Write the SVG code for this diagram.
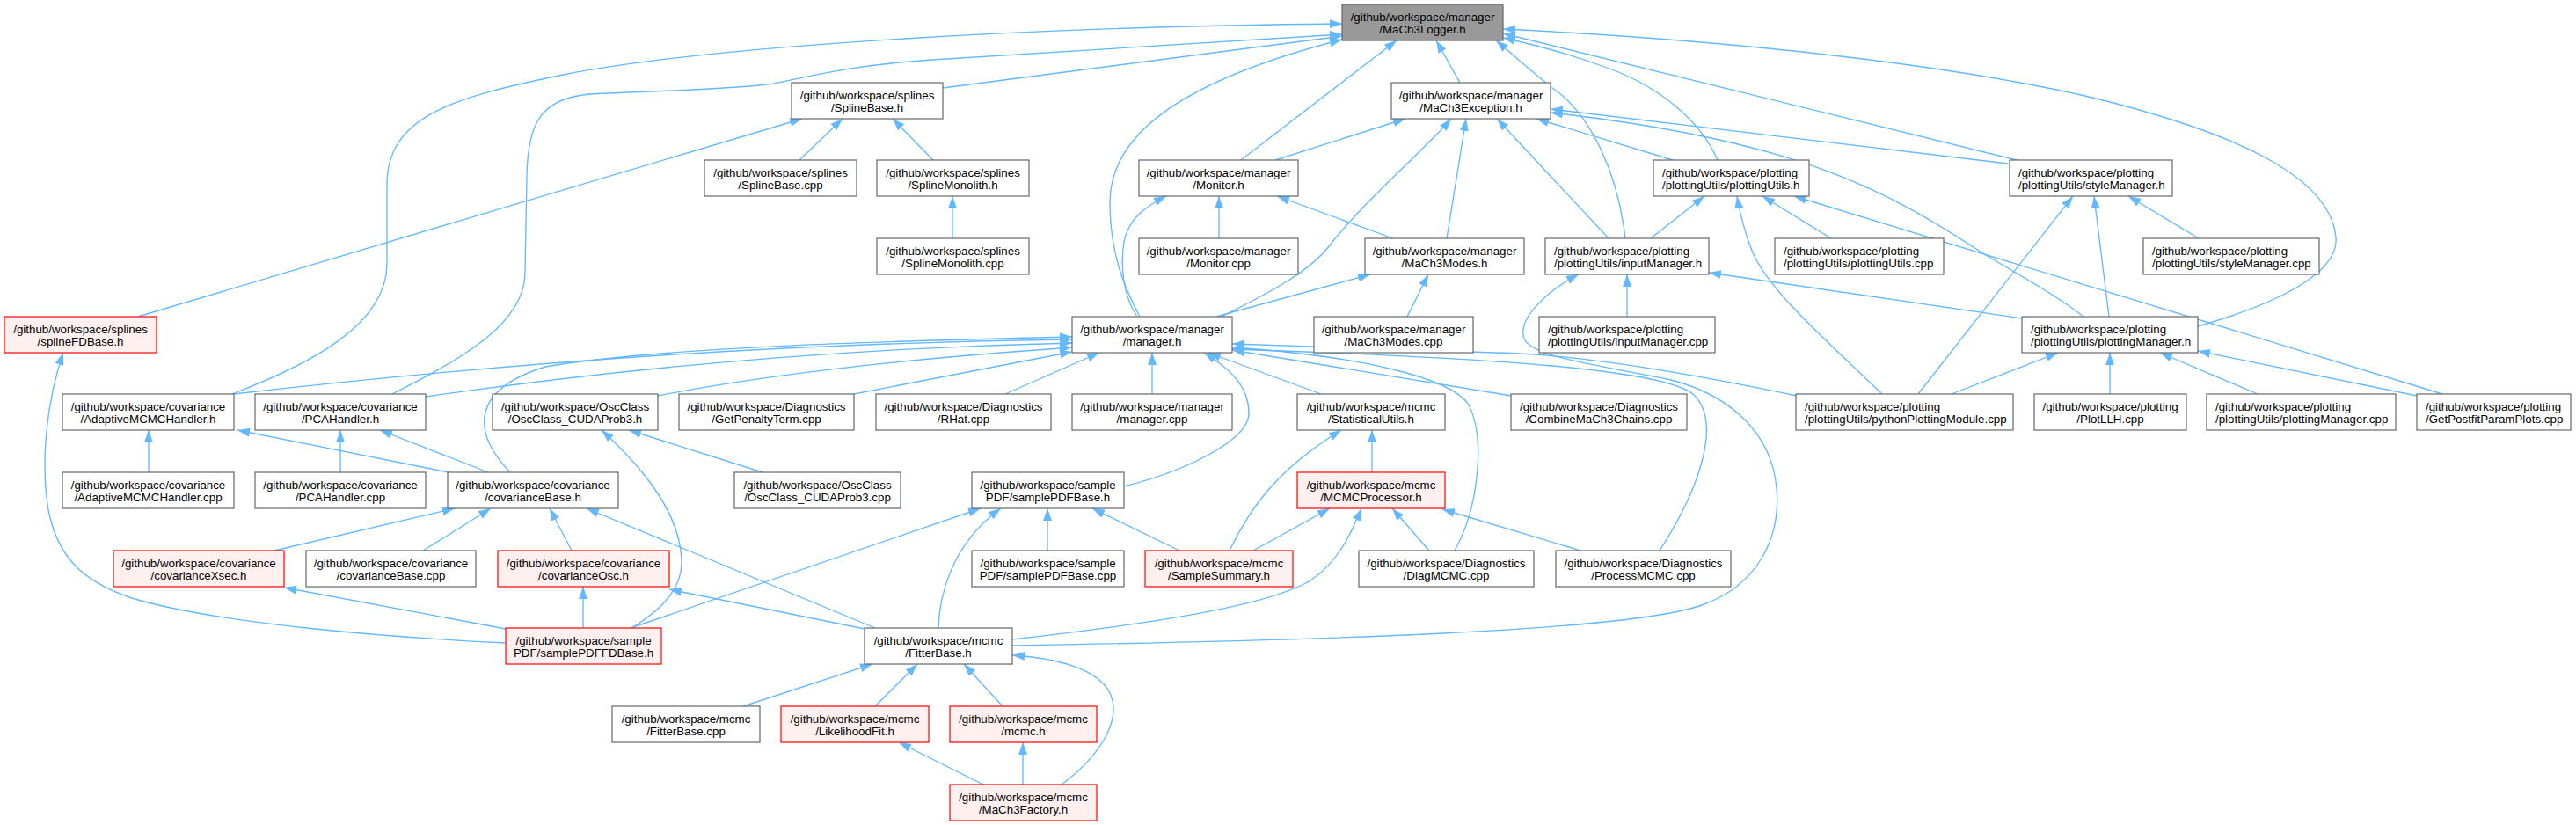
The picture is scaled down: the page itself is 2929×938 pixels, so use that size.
<svg xmlns="http://www.w3.org/2000/svg" width="2929" height="938" viewBox="0 0 2929 938">
<style>
.node rect{fill:#ffffff;stroke:#666666;stroke-width:1.2}
.root rect{fill:#999999;stroke:#666666}
.red rect{fill:#fff0f0;stroke:#ff0000}
.node text{font-family:"Liberation Sans",Arial,Helvetica,sans-serif;font-size:13.33px;fill:#000000}
.c text{text-anchor:middle}
.l text{text-anchor:start}
.edges path{fill:none;stroke:#63b8ff;stroke-width:1.33;marker-end:url(#ah)}
</style>
<defs>
<marker id="ah" viewBox="0 0 14 10" refX="14" refY="5" markerWidth="14" markerHeight="10" markerUnits="userSpaceOnUse" orient="auto"><path d="M0,0 L14,5 L0,10 z" fill="#63b8ff"/></marker>
</defs>
<rect x="0" y="0" width="2929" height="938" fill="#ffffff"/>
<g class="edges" id="connectors">
<path d="M1072,100 L1526,41"/>
<path d="M264,448 C350,415 440,370 440,300 L440,210 C440,130 520,110 640,85 C820,50 1200,30 1526,27"/>
<path d="M446,448 C520,410 597,370 597,310 L599,200 C600,140 615,112 670,107 C750,103 830,102 880,95 C930,85 970,74 1060,68 L1526,39"/>
<path d="M1296,360 C1280,330 1262,290 1262,230 C1262,150 1350,90 1526,45"/>
<path d="M1411,182 L1588,46"/>
<path d="M1660,94 L1633,46"/>
<path d="M1848,271 C1840,200 1810,130 1765,100 C1740,80 1720,62 1701,46"/>
<path d="M1953,182 C1935,140 1890,100 1830,78 C1790,63 1750,52 1709,43"/>
<path d="M2293,182 L1709,38"/>
<path d="M2499,371 C2590,345 2660,310 2656,270 C2650,200 2540,150 2375,110 C2200,70 1950,45 1709,33"/>
<path d="M1450,182 L1598,135"/>
<path d="M1389,360 C1440,334 1490,310 1515,275 C1560,220 1620,170 1650,135"/>
<path d="M1645,271 L1667,135"/>
<path d="M1829,271 L1702,135"/>
<path d="M1902,182 L1747,135"/>
<path d="M2283,186 L1763,124"/>
<path d="M2369,360 C2330,330 2290,310 2250,285 C2150,220 2050,160 1763,128"/>
<path d="M157,360 L912,135"/>
<path d="M909,182 L958,135"/>
<path d="M1061,182 L1015,135"/>
<path d="M1083,271 L1083,223"/>
<path d="M1386,271 L1386,223"/>
<path d="M1293,360 C1276,335 1274,300 1278,275 C1283,250 1300,236 1326,223"/>
<path d="M1584,271 L1452,223"/>
<path d="M1383,360 L1558,312"/>
<path d="M1600,360 L1624,312"/>
<path d="M1877,271 L1938,223"/>
<path d="M1850,360 L1850,312"/>
<path d="M2299,362 L1943,310"/>
<path d="M1151,734 C1500,728 1850,718 1935,688 C2000,665 2025,610 2020,555 C2015,495 1970,450 1900,432 C1800,412 1742,405 1733,385 C1725,362 1760,330 1795,312"/>
<path d="M1560,537 L1560,489"/>
<path d="M1398,626 C1420,580 1450,535 1525,489"/>
<path d="M1425,626 L1512,578"/>
<path d="M1625,626 L1583,578"/>
<path d="M1797,626 L1640,579"/>
<path d="M1151,727 C1300,710 1440,690 1490,660 C1520,640 1535,610 1548,578"/>
<path d="M1191,626 L1191,578"/>
<path d="M1341,626 L1242,578"/>
<path d="M1067,714 C1068,680 1080,620 1138,578"/>
<path d="M717,714 L1115,578"/>
<path d="M312,626 L517,578"/>
<path d="M481,626 L558,578"/>
<path d="M650,626 L625,578"/>
<path d="M995,714 L667,578"/>
<path d="M510,537 L270,489"/>
<path d="M555,537 L432,489"/>
<path d="M580,537 C540,495 530,445 620,417 C750,395 1000,388 1219,383"/>
<path d="M169,537 L169,489"/>
<path d="M387,537 L387,489"/>
<path d="M867,537 L715,489"/>
<path d="M718,714 C750,695 775,670 775,640 C775,590 740,540 684,489"/>
<path d="M663,714 L663,667"/>
<path d="M983,715 L761,670"/>
<path d="M575,715 L323,668"/>
<path d="M575,731 C450,725 250,710 150,680 C90,660 65,630 55,580 C45,520 55,450 72,401"/>
<path d="M845,803 L992,755"/>
<path d="M995,803 L1043,755"/>
<path d="M1140,803 L1096,755"/>
<path d="M1207,892 C1250,860 1275,820 1263,790 C1250,760 1200,748 1151,745"/>
<path d="M1118,892 L1022,844"/>
<path d="M1163,892 L1163,844"/>
<path d="M2140,448 C2080,390 2010,330 1992,285 C1982,260 1978,240 1975,223"/>
<path d="M2082,271 L2004,223"/>
<path d="M2777,448 L2040,223"/>
<path d="M2181,448 L2357,223"/>
<path d="M2398,360 L2381,223"/>
<path d="M2500,271 L2420,223"/>
<path d="M2219,448 L2340,401"/>
<path d="M2399,448 L2399,401"/>
<path d="M2567,448 L2456,401"/>
<path d="M2748,450 L2499,399"/>
<path d="M266,448 C600,410 900,390 1219,386"/>
<path d="M484,451 C700,420 950,396 1219,390"/>
<path d="M748,450 C850,430 1000,410 1219,395"/>
<path d="M971,448 L1219,400"/>
<path d="M1143,448 L1250,401"/>
<path d="M1310,448 L1310,401"/>
<path d="M1278,553 C1350,535 1420,500 1420,470 C1420,440 1400,420 1369,401"/>
<path d="M1502,448 L1374,401"/>
<path d="M1654,626 C1680,580 1690,500 1670,460 C1650,430 1550,405 1401,395"/>
<path d="M1718,450 L1401,398"/>
<path d="M1887,626 C1930,560 1960,480 1925,448 C1890,420 1700,407 1401,397"/>
<path d="M2043,450 C1900,420 1780,402 1700,401 L1401,391"/>
</g>
<g id="logger" class="node root c"><rect x="1526" y="5" width="183" height="41"/><text x="1617.5" y="24">/github/workspace/manager</text><text x="1617.5" y="38">/MaCh3Logger.h</text></g>
<g id="splinebase_h" class="node c"><rect x="900" y="94" width="172" height="41"/><text x="986" y="113">/github/workspace/splines</text><text x="986" y="127">/SplineBase.h</text></g>
<g id="exception" class="node c"><rect x="1582" y="94" width="181" height="41"/><text x="1672.5" y="113">/github/workspace/manager</text><text x="1672.5" y="127">/MaCh3Exception.h</text></g>
<g id="splinebase_cpp" class="node c"><rect x="801" y="182" width="173" height="41"/><text x="887.5" y="201">/github/workspace/splines</text><text x="887.5" y="215">/SplineBase.cpp</text></g>
<g id="splinemono_h" class="node c"><rect x="997" y="182" width="173" height="41"/><text x="1083.5" y="201">/github/workspace/splines</text><text x="1083.5" y="215">/SplineMonolith.h</text></g>
<g id="monitor_h" class="node c"><rect x="1295" y="182" width="181" height="41"/><text x="1385.5" y="201">/github/workspace/manager</text><text x="1385.5" y="215">/Monitor.h</text></g>
<g id="plotutils_h" class="node l"><rect x="1880" y="182" width="177" height="41"/><text x="1890" y="201">/github/workspace/plotting</text><text x="1890" y="215">/plottingUtils/plottingUtils.h</text></g>
<g id="style_h" class="node l"><rect x="2285" y="182" width="185" height="41"/><text x="2295" y="201">/github/workspace/plotting</text><text x="2295" y="215">/plottingUtils/styleManager.h</text></g>
<g id="splinemono_cpp" class="node c"><rect x="997" y="271" width="173" height="41"/><text x="1083.5" y="290">/github/workspace/splines</text><text x="1083.5" y="304">/SplineMonolith.cpp</text></g>
<g id="monitor_cpp" class="node c"><rect x="1295" y="271" width="181" height="41"/><text x="1385.5" y="290">/github/workspace/manager</text><text x="1385.5" y="304">/Monitor.cpp</text></g>
<g id="modes_h" class="node c"><rect x="1552" y="271" width="181" height="41"/><text x="1642.5" y="290">/github/workspace/manager</text><text x="1642.5" y="304">/MaCh3Modes.h</text></g>
<g id="input_h" class="node l"><rect x="1757" y="271" width="186" height="41"/><text x="1767" y="290">/github/workspace/plotting</text><text x="1767" y="304">/plottingUtils/inputManager.h</text></g>
<g id="plotutils_cpp" class="node l"><rect x="2018" y="271" width="192" height="41"/><text x="2028" y="290">/github/workspace/plotting</text><text x="2028" y="304">/plottingUtils/plottingUtils.cpp</text></g>
<g id="style_cpp" class="node l"><rect x="2437" y="271" width="200" height="41"/><text x="2447" y="290">/github/workspace/plotting</text><text x="2447" y="304">/plottingUtils/styleManager.cpp</text></g>
<g id="splinefd" class="node red c"><rect x="5" y="360" width="173" height="41"/><text x="91.5" y="379">/github/workspace/splines</text><text x="91.5" y="393">/splineFDBase.h</text></g>
<g id="manager_h" class="node c"><rect x="1219" y="360" width="182" height="41"/><text x="1310" y="379">/github/workspace/manager</text><text x="1310" y="393">/manager.h</text></g>
<g id="modes_cpp" class="node c"><rect x="1494" y="360" width="181" height="41"/><text x="1584.5" y="379">/github/workspace/manager</text><text x="1584.5" y="393">/MaCh3Modes.cpp</text></g>
<g id="input_cpp" class="node l"><rect x="1750" y="360" width="200" height="41"/><text x="1760" y="379">/github/workspace/plotting</text><text x="1760" y="393">/plottingUtils/inputManager.cpp</text></g>
<g id="plotmgr_h" class="node l"><rect x="2299" y="360" width="200" height="41"/><text x="2309" y="379">/github/workspace/plotting</text><text x="2309" y="393">/plottingUtils/plottingManager.h</text></g>
<g id="adaptive_h" class="node c"><rect x="71" y="448" width="195" height="41"/><text x="168.5" y="467">/github/workspace/covariance</text><text x="168.5" y="481">/AdaptiveMCMCHandler.h</text></g>
<g id="pca_h" class="node c"><rect x="290" y="448" width="194" height="41"/><text x="387" y="467">/github/workspace/covariance</text><text x="387" y="481">/PCAHandler.h</text></g>
<g id="osc_h" class="node c"><rect x="560" y="448" width="188" height="41"/><text x="654" y="467">/github/workspace/OscClass</text><text x="654" y="481">/OscClass_CUDAProb3.h</text></g>
<g id="penalty" class="node c"><rect x="772" y="448" width="199" height="41"/><text x="871.5" y="467">/github/workspace/Diagnostics</text><text x="871.5" y="481">/GetPenaltyTerm.cpp</text></g>
<g id="rhat" class="node c"><rect x="996" y="448" width="199" height="41"/><text x="1095.5" y="467">/github/workspace/Diagnostics</text><text x="1095.5" y="481">/RHat.cpp</text></g>
<g id="manager_cpp" class="node c"><rect x="1219" y="448" width="182" height="41"/><text x="1310" y="467">/github/workspace/manager</text><text x="1310" y="481">/manager.cpp</text></g>
<g id="statutils" class="node c"><rect x="1475" y="448" width="168" height="41"/><text x="1559" y="467">/github/workspace/mcmc</text><text x="1559" y="481">/StatisticalUtils.h</text></g>
<g id="combine" class="node c"><rect x="1718" y="448" width="200" height="41"/><text x="1818" y="467">/github/workspace/Diagnostics</text><text x="1818" y="481">/CombineMaCh3Chains.cpp</text></g>
<g id="python" class="node l"><rect x="2042" y="448" width="247" height="41"/><text x="2052" y="467">/github/workspace/plotting</text><text x="2052" y="481">/plottingUtils/pythonPlottingModule.cpp</text></g>
<g id="plotllh" class="node c"><rect x="2313" y="448" width="173" height="41"/><text x="2399.5" y="467">/github/workspace/plotting</text><text x="2399.5" y="481">/PlotLLH.cpp</text></g>
<g id="plotmgr_cpp" class="node l"><rect x="2509" y="448" width="215" height="41"/><text x="2519" y="467">/github/workspace/plotting</text><text x="2519" y="481">/plottingUtils/plottingManager.cpp</text></g>
<g id="postfit" class="node l"><rect x="2748" y="448" width="175" height="41"/><text x="2758" y="467">/github/workspace/plotting</text><text x="2758" y="481">/GetPostfitParamPlots.cpp</text></g>
<g id="adaptive_cpp" class="node c"><rect x="71" y="537" width="195" height="41"/><text x="168.5" y="556">/github/workspace/covariance</text><text x="168.5" y="570">/AdaptiveMCMCHandler.cpp</text></g>
<g id="pca_cpp" class="node c"><rect x="290" y="537" width="194" height="41"/><text x="387" y="556">/github/workspace/covariance</text><text x="387" y="570">/PCAHandler.cpp</text></g>
<g id="covbase_h" class="node c"><rect x="509" y="537" width="194" height="41"/><text x="606" y="556">/github/workspace/covariance</text><text x="606" y="570">/covarianceBase.h</text></g>
<g id="osc_cpp" class="node c"><rect x="835" y="537" width="189" height="41"/><text x="929.5" y="556">/github/workspace/OscClass</text><text x="929.5" y="570">/OscClass_CUDAProb3.cpp</text></g>
<g id="samplepdf_h" class="node c"><rect x="1105" y="537" width="173" height="41"/><text x="1191.5" y="556">/github/workspace/sample</text><text x="1191.5" y="570">PDF/samplePDFBase.h</text></g>
<g id="mcmcproc" class="node red c"><rect x="1475" y="537" width="168" height="41"/><text x="1559" y="556">/github/workspace/mcmc</text><text x="1559" y="570">/MCMCProcessor.h</text></g>
<g id="covxsec" class="node red c"><rect x="129" y="626" width="194" height="41"/><text x="226" y="645">/github/workspace/covariance</text><text x="226" y="659">/covarianceXsec.h</text></g>
<g id="covbase_cpp" class="node c"><rect x="348" y="626" width="193" height="41"/><text x="444.5" y="645">/github/workspace/covariance</text><text x="444.5" y="659">/covarianceBase.cpp</text></g>
<g id="covosc" class="node red c"><rect x="566" y="626" width="195" height="41"/><text x="663.5" y="645">/github/workspace/covariance</text><text x="663.5" y="659">/covarianceOsc.h</text></g>
<g id="samplepdf_cpp" class="node c"><rect x="1105" y="626" width="173" height="41"/><text x="1191.5" y="645">/github/workspace/sample</text><text x="1191.5" y="659">PDF/samplePDFBase.cpp</text></g>
<g id="samplesummary" class="node red c"><rect x="1302" y="626" width="168" height="41"/><text x="1386" y="645">/github/workspace/mcmc</text><text x="1386" y="659">/SampleSummary.h</text></g>
<g id="diagmcmc" class="node c"><rect x="1545" y="626" width="199" height="41"/><text x="1644.5" y="645">/github/workspace/Diagnostics</text><text x="1644.5" y="659">/DiagMCMC.cpp</text></g>
<g id="processmcmc" class="node c"><rect x="1769" y="626" width="199" height="41"/><text x="1868.5" y="645">/github/workspace/Diagnostics</text><text x="1868.5" y="659">/ProcessMCMC.cpp</text></g>
<g id="samplefd" class="node red c"><rect x="575" y="714" width="177" height="41"/><text x="663.5" y="733">/github/workspace/sample</text><text x="663.5" y="747">PDF/samplePDFFDBase.h</text></g>
<g id="fitterbase_h" class="node c"><rect x="983" y="714" width="168" height="41"/><text x="1067" y="733">/github/workspace/mcmc</text><text x="1067" y="747">/FitterBase.h</text></g>
<g id="fitterbase_cpp" class="node c"><rect x="696" y="803" width="168" height="41"/><text x="780" y="822">/github/workspace/mcmc</text><text x="780" y="836">/FitterBase.cpp</text></g>
<g id="likelihood" class="node red c"><rect x="888" y="803" width="168" height="41"/><text x="972" y="822">/github/workspace/mcmc</text><text x="972" y="836">/LikelihoodFit.h</text></g>
<g id="mcmc_h" class="node red c"><rect x="1080" y="803" width="167" height="41"/><text x="1163.5" y="822">/github/workspace/mcmc</text><text x="1163.5" y="836">/mcmc.h</text></g>
<g id="factory" class="node red c"><rect x="1080" y="892" width="167" height="41"/><text x="1163.5" y="911">/github/workspace/mcmc</text><text x="1163.5" y="925">/MaCh3Factory.h</text></g>
</svg>
